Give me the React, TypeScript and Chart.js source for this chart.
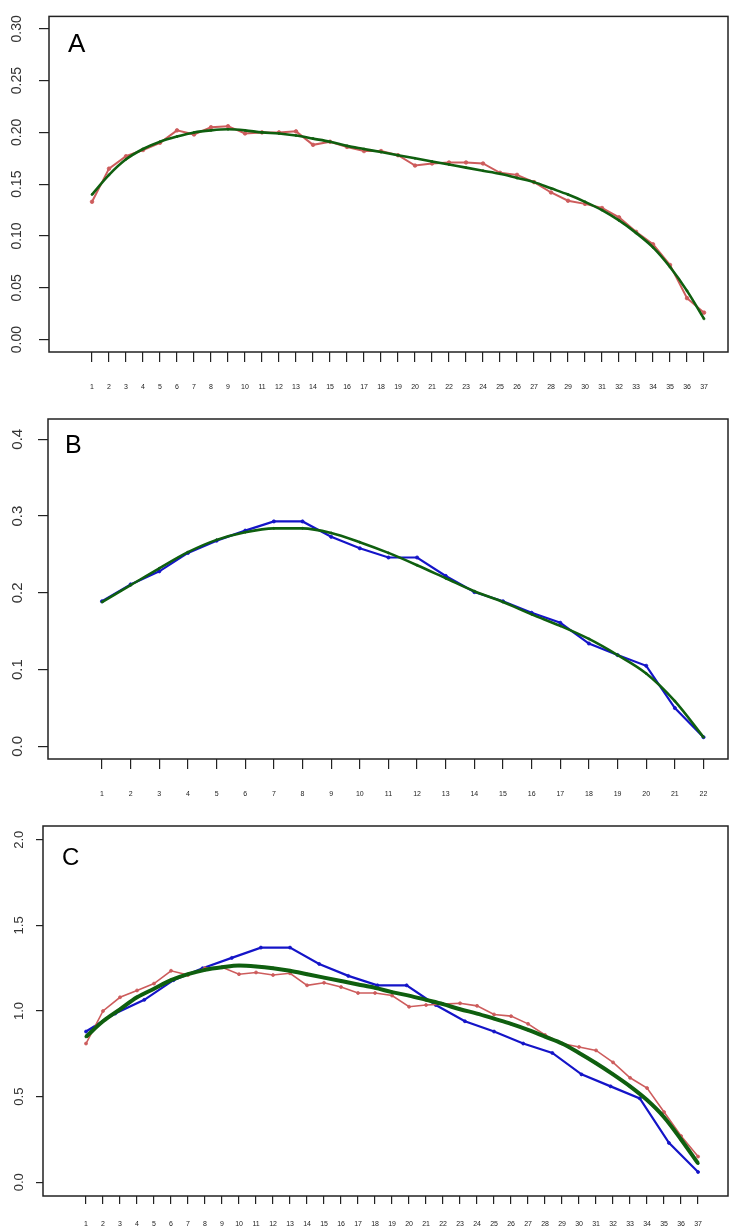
import React, { useEffect, useRef } from "react";
import { Chart, registerables } from "chart.js";

Chart.register(...registerables);

// ---------- data ----------
const xTicks37 = [1, 2, 3, 4, 5, 6, 7, 8, 9, 10, 11, 12, 13, 14, 15, 16, 17, 18, 19, 20, 21, 22, 23, 24, 25, 26, 27, 28, 29, 30, 31, 32, 33, 34, 35, 36, 37];
const xTicks22 = [1, 2, 3, 4, 5, 6, 7, 8, 9, 10, 11, 12, 13, 14, 15, 16, 17, 18, 19, 20, 21, 22];

// Panel A
const redA = [0.133, 0.165, 0.177, 0.183, 0.190, 0.202, 0.198, 0.205, 0.206, 0.199, 0.200, 0.200, 0.201, 0.188, 0.191, 0.186, 0.182, 0.182, 0.178, 0.168, 0.170, 0.171, 0.171, 0.170, 0.161, 0.159, 0.152, 0.142, 0.134, 0.131, 0.127, 0.118, 0.104, 0.092, 0.072, 0.040, 0.026];
const greenA = [0.140, 0.159, 0.174, 0.184, 0.191, 0.196, 0.200, 0.202, 0.203, 0.202, 0.200, 0.199, 0.197, 0.194, 0.191, 0.187, 0.184, 0.181, 0.178, 0.175, 0.172, 0.169, 0.166, 0.163, 0.160, 0.156, 0.152, 0.146, 0.140, 0.133, 0.125, 0.115, 0.103, 0.089, 0.070, 0.047, 0.020];
const yTicksA = [0, 0.05, 0.1, 0.15, 0.2, 0.25, 0.3];
const yLabelsA = ["0.00", "0.05", "0.10", "0.15", "0.20", "0.25", "0.30"];

// Panel B
const blueB = [0.189, 0.211, 0.228, 0.252, 0.268, 0.281, 0.293, 0.293, 0.273, 0.258, 0.246, 0.246, 0.222, 0.201, 0.189, 0.174, 0.161, 0.134, 0.119, 0.105, 0.050, 0.012];
const greenB = [0.188, 0.210, 0.232, 0.253, 0.269, 0.279, 0.284, 0.284, 0.278, 0.266, 0.252, 0.236, 0.219, 0.202, 0.188, 0.172, 0.157, 0.140, 0.119, 0.095, 0.059, 0.012];
const yTicksB = [0, 0.1, 0.2, 0.3, 0.4];
const yLabelsB = ["0.0", "0.1", "0.2", "0.3", "0.4"];

// Panel C
const redC = [0.81, 1.00, 1.08, 1.12, 1.16, 1.235, 1.21, 1.25, 1.255, 1.215, 1.225, 1.21, 1.22, 1.15, 1.165, 1.14, 1.105, 1.105, 1.09, 1.025, 1.035, 1.04, 1.045, 1.03, 0.98, 0.97, 0.925, 0.86, 0.81, 0.79, 0.77, 0.70, 0.61, 0.55, 0.41, 0.27, 0.15];
const blueC = [0.88, 0.985, 1.065, 1.18, 1.25, 1.31, 1.37, 1.37, 1.275, 1.205, 1.15, 1.15, 1.035, 0.94, 0.88, 0.81, 0.755, 0.63, 0.56, 0.49, 0.23, 0.06];
const greenC = [0.85, 0.94, 1.01, 1.08, 1.13, 1.18, 1.215, 1.24, 1.255, 1.265, 1.26, 1.25, 1.235, 1.215, 1.195, 1.175, 1.155, 1.135, 1.11, 1.09, 1.065, 1.04, 1.01, 0.985, 0.955, 0.925, 0.89, 0.85, 0.81, 0.755, 0.695, 0.63, 0.56, 0.48, 0.38, 0.25, 0.11];
const yTicksC = [0, 0.5, 1, 1.5, 2];
const yLabelsC = ["0.0", "0.5", "1.0", "1.5", "2.0"];

// ---------- styles ----------
const RED = "#CD5C5C";
const BLUE = "#1414C8";
const GREEN = "#0F5F0F";
const INK = "#222222";
const FONT = "'Liberation Sans', Arial, sans-serif";

const boxPlugin = {
  id: "box",
  afterDraw(chart: any) {
    const { ctx, chartArea: a } = chart;
    ctx.save();
    ctx.strokeStyle = INK;
    ctx.lineWidth = 1.5;
    ctx.strokeRect(a.left, a.top, a.right - a.left, a.bottom - a.top);
    ctx.restore();
  },
};

const pts = (xs: number[], ys: number[]) => ys.map((y, i) => ({ x: xs[i], y }));

function makeChart(canvas: HTMLCanvasElement, o: any) {
  return new Chart(canvas, {
    type: "line",
    data: { datasets: o.datasets },
    plugins: [boxPlugin],
    options: {
      animation: false,
      responsive: false,
      events: [],
      layout: { autoPadding: false, padding: { top: o.padTop, right: 6, left: 0, bottom: 0 } },
      plugins: { legend: { display: false }, tooltip: { enabled: false }, title: { display: false } },
      scales: {
        x: {
          type: "linear",
          min: o.xMin,
          max: o.xMax,
          afterBuildTicks: (s: any) => {
            s.ticks = o.xTicks.map((v: number) => ({ value: v }));
          },
          afterFit: (s: any) => {
            s.height = o.xHeight;
          },
          grid: { display: true, drawOnChartArea: false, drawTicks: true, tickLength: o.xTickLen, color: INK, lineWidth: 1.2 },
          border: { display: false },
          ticks: {
            autoSkip: false,
            maxRotation: 0,
            minRotation: 0,
            padding: o.xPad,
            color: "#222",
            font: { family: FONT, size: 7 },
            callback: (v: any) => String(v),
          },
        },
        y: {
          type: "linear",
          min: o.yMin,
          max: o.yMax,
          afterBuildTicks: (s: any) => {
            s.ticks = o.yTicks.map((v: number) => ({ value: v }));
          },
          afterFit: (s: any) => {
            s.width = o.left;
          },
          grid: { display: true, drawOnChartArea: false, drawTicks: true, tickLength: o.yTickLen, color: INK, lineWidth: 1.2 },
          border: { display: false },
          ticks: {
            autoSkip: false,
            minRotation: 90,
            maxRotation: 90,
            crossAlign: "center",
            padding: o.yPad,
            color: "#333",
            font: { family: FONT, size: o.yFont },
            callback: (_v: any, i: number) => o.yLabels[i],
          },
        },
      },
    },
  } as any);
}

const lineDs = (data: any[], color: string, width: number, r: number, smooth = false) => ({
  data,
  borderColor: color,
  backgroundColor: color,
  borderWidth: width,
  pointRadius: r,
  pointBorderWidth: 0.8,
  pointBackgroundColor: color,
  pointBorderColor: color,
  fill: false,
  tension: 0,
  cubicInterpolationMode: smooth ? "monotone" : "default",
});

export default function App() {
  const refA = useRef<HTMLCanvasElement>(null);
  const refB = useRef<HTMLCanvasElement>(null);
  const refC = useRef<HTMLCanvasElement>(null);

  useEffect(() => {
    const blueCx = blueC.map((_, i) => 1 + (i * 36) / (blueC.length - 1));
    const charts = [
      makeChart(refA.current!, {
        padTop: 12,
        left: 49,
        xHeight: 48,
        xMin: -1.53,
        xMax: 38.41,
        xTicks: xTicks37,
        xTickLen: 10,
        xPad: 21,
        yMin: -0.012,
        yMax: 0.312,
        yTicks: yTicksA,
        yLabels: yLabelsA,
        yTickLen: 10,
        yPad: 8,
        yFont: 14,
        datasets: [lineDs(pts(xTicks37, greenA), GREEN, 2.6, 1, true), lineDs(pts(xTicks37, redA), RED, 2, 1.8)],
      }),
      makeChart(refB.current!, {
        padTop: 7,
        left: 48,
        xHeight: 51,
        xMin: -0.886,
        xMax: 22.855,
        xTicks: xTicks22,
        xTickLen: 10,
        xPad: 21,
        yMin: -0.0164,
        yMax: 0.4264,
        yTicks: yTicksB,
        yLabels: yLabelsB,
        yTickLen: 10,
        yPad: 10,
        yFont: 15,
        datasets: [lineDs(pts(xTicks22, greenB), GREEN, 2.6, 1, true), lineDs(pts(xTicks22, blueB), BLUE, 2.2, 1.6)],
      }),
      makeChart(refC.current!, {
        padTop: 16,
        left: 43,
        xHeight: 35,
        xMin: -1.53,
        xMax: 38.76,
        xTicks: xTicks37,
        xTickLen: 8,
        xPad: 16,
        yMin: -0.08,
        yMax: 2.08,
        yTicks: yTicksC,
        yLabels: yLabelsC,
        yTickLen: 7,
        yPad: 8,
        yFont: 13,
        datasets: [
          lineDs(pts(xTicks37, greenC), GREEN, 4, 1.2, true),
          lineDs(pts(xTicks37, redC), RED, 1.6, 1.5),
          lineDs(pts(blueCx, blueC), BLUE, 2.2, 1.5),
        ],
      }),
    ];
    return () => charts.forEach((c) => c.destroy());
  }, []);

  const letter = (left: number, top: number, size: number): React.CSSProperties => ({
    position: "absolute",
    left,
    top,
    fontFamily: FONT,
    fontSize: size,
    lineHeight: `${size}px`,
    color: "#000",
    zIndex: 2,
  });

  return (
    <div style={{ position: "absolute", left: 0, top: 0, width: 734, height: 1231, background: "#fff", overflow: "hidden" }}>
      <canvas ref={refA} width={734} height={400} style={{ position: "absolute", left: 0, top: 0 }} />
      <canvas ref={refB} width={734} height={410} style={{ position: "absolute", left: 0, top: 400 }} />
      <canvas ref={refC} width={734} height={421} style={{ position: "absolute", left: 0, top: 810 }} />
      <div style={letter(68, 29.6, 26)}>A</div>
      <div style={letter(65, 431.7, 25)}>B</div>
      <div style={letter(62, 845, 24)}>C</div>
    </div>
  );
}
